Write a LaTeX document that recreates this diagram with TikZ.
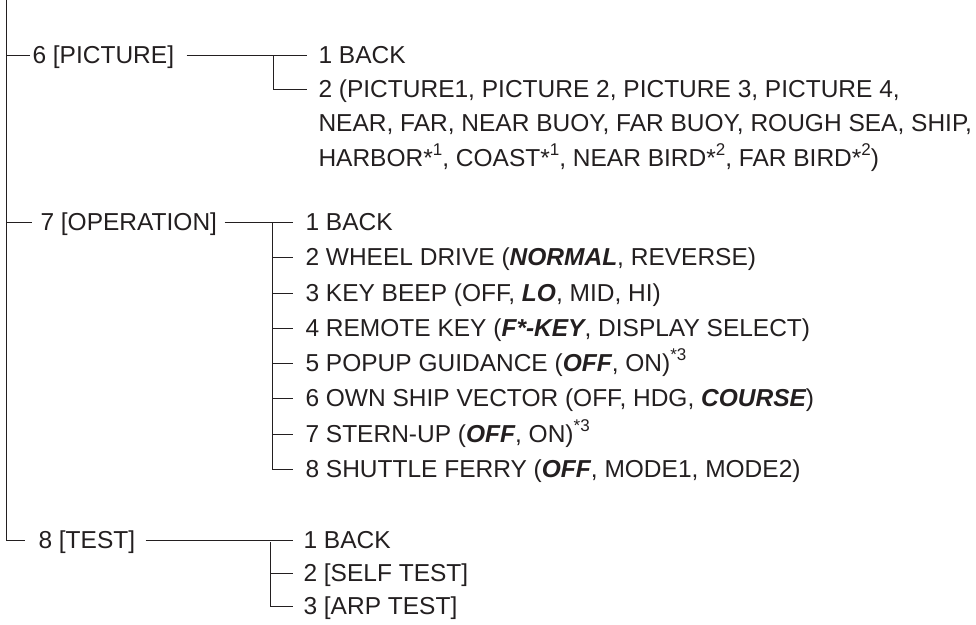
\documentclass[tikz,border=0pt]{standalone}
\usepackage{fontspec}
\setmainfont{Liberation Sans}
\definecolor{ink}{HTML}{231F20}
\newcommand{\bfitx}[1]{{\bfseries\itshape #1}}
\newcommand{\supx}[1]{\raisebox{11pt}{\fontsize{17}{17}\selectfont #1}}
\begin{document}
\begin{tikzpicture}[x=1pt,y=-1pt, line width=1pt,
  conn/.style={draw=ink, line width=1pt},
  txt/.style={anchor=west, inner sep=0pt, text height=17.5pt, text depth=0pt,
    font=\fontsize{24.5}{35}\selectfont, text=ink}]
\useasboundingbox (0,0) rectangle (976,624);

% main level
\node[txt] (m6) at (32,55) {6 [PICTURE]};
\node[txt] (m7) at (40,222) {7 [OPERATION]};
\node[txt] (m8) at (38,540) {8 [TEST]};

% picture sub-items
\node[txt] (p1) at (318,55) {1 BACK};
\node[txt] (p2) at (318,89) {2 (PICTURE1, PICTURE 2, PICTURE 3, PICTURE 4,};
\node[txt] (p2b) at (318,123) {NEAR, FAR, NEAR BUOY, FAR BUOY, ROUGH SEA, SHIP,};
\node[txt] (p2c) at (318,158) {HARBOR*\supx{1}, COAST*\supx{1}, NEAR BIRD*\supx{2}, FAR BIRD*\supx{2})};

% operation sub-items
\node[txt] (o1) at (305,222) {1 BACK};
\node[txt] (o2) at (305,257) {2 WHEEL DRIVE (\bfitx{NORMAL}, REVERSE)};
\node[txt] (o3) at (305,293) {3 KEY BEEP (OFF, \bfitx{LO}, MID, HI)};
\node[txt] (o4) at (305,328) {4 REMOTE KEY (\bfitx{F*-KEY}, DISPLAY SELECT)};
\node[txt] (o5) at (305,363) {5 POPUP GUIDANCE (\bfitx{OFF}, ON)\supx{*3}};
\node[txt] (o6) at (305,398) {6 OWN SHIP VECTOR (OFF, HDG, \bfitx{COURSE})};
\node[txt] (o7) at (305,434) {7 STERN-UP (\bfitx{OFF}, ON)\supx{*3}};
\node[txt] (o8) at (305,469) {8 SHUTTLE FERRY (\bfitx{OFF}, MODE1, MODE2)};

% test sub-items
\node[txt] (t1) at (303,540) {1 BACK};
\node[txt] (t2) at (303,573) {2 [SELF TEST]};
\node[txt] (t3) at (303,606) {3 [ARP TEST]};

% main trunk
\coordinate (top) at (6,0);
\draw[conn] (top) |- ([xshift=-13pt]m8.west);
\draw[conn] (m6.west -| top) -- ([xshift=-2pt]m6.west);
\draw[conn] (m7.west -| top) -- ([xshift=-8pt]m7.west);

% picture connectors
\coordinate (pj) at (273,55);
\draw[conn] ([xshift=12pt]m6.east) -- ([xshift=-11pt]p1.west);
\draw[conn] (pj) |- ([xshift=-11pt]p2.west);

% operation connectors
\coordinate (oj) at (272,222);
\draw[conn] ([xshift=7pt]m7.east) -- ([xshift=-12pt]o1.west);
\draw[conn] (oj) |- ([xshift=-12pt]o8.west);
\foreach \i in {2,...,7}{
  \draw[conn] (o\i.west -| oj) -- ([xshift=-12pt]o\i.west);
}

% test connectors
\coordinate (tj) at (270,542);
\draw[conn] ([xshift=10pt]m8.east) -- ([xshift=-10pt]t1.west);
\draw[conn] (tj) |- ([xshift=-10pt]t3.west);
\draw[conn] (t2.west -| tj) -- ([xshift=-10pt]t2.west);
\end{tikzpicture}
\end{document}
